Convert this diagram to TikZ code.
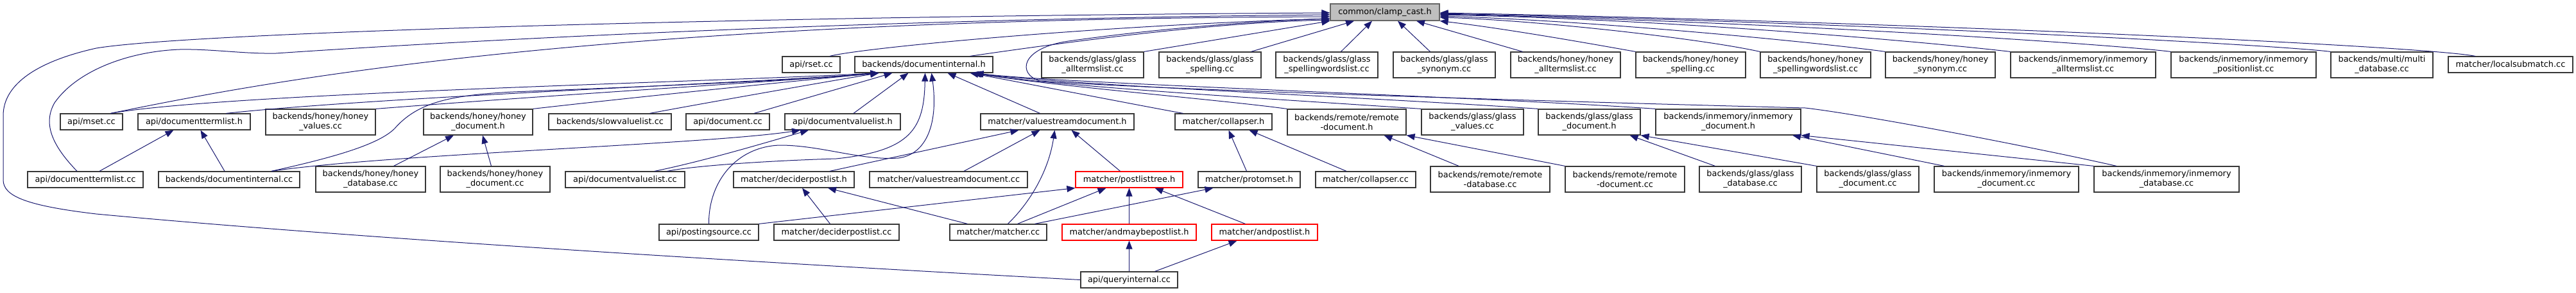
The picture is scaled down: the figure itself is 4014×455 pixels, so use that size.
\documentclass[tikz,border=0pt]{standalone}
\usepackage{fontspec}
\setmainfont{DejaVu Sans}
\usetikzlibrary{arrows.meta}
\definecolor{edgeblue}{HTML}{191970}
\definecolor{rootfill}{HTML}{BFBFBF}
\definecolor{rootline}{HTML}{666666}
\definecolor{boxline}{HTML}{383838}
\tikzset{
  box/.style={draw=boxline, line width=1.2pt, fill=white, rectangle, inner sep=0pt, align=center,
    font=\fontsize{12.9pt}{15pt}\selectfont, minimum height=25pt},
  one/.style={text height=10pt, text depth=3pt},
  two/.style={minimum height=40pt},
  root/.style={fill=rootfill, draw=rootline},
  trunc/.style={draw=red},
  dep/.style={draw=edgeblue, line width=1pt, -{Triangle[length=13pt,width=10pt]}}
}
\begin{document}
\begin{tikzpicture}[x=1pt,y=-1pt]
\useasboundingbox (0,0) rectangle (4014,455);
% row 0
\node[box,one,root,minimum width=170,minimum height=26] (C) at (2158,19) {common/clamp\_cast.h};
% row 1
\node[box,one,minimum width=90] (rset) at (1264,100.5) {api/rset.cc};
\node[box,one,minimum width=215] (dih) at (1439.5,100.5) {backends/documentinternal.h};
\node[box,two,minimum width=159] (gat) at (1702.5,101) {backends/glass/glass\\\_alltermslist.cc};
\node[box,two,minimum width=159] (gsp) at (1885.5,101) {backends/glass/glass\\\_spelling.cc};
\node[box,two,minimum width=159] (gsw) at (2067.5,101) {backends/glass/glass\\\_spellingwordslist.cc};
\node[box,two,minimum width=159] (gsy) at (2250.5,101) {backends/glass/glass\\\_synonym.cc};
\node[box,two,minimum width=171] (hat) at (2439.5,101) {backends/honey/honey\\\_alltermslist.cc};
\node[box,two,minimum width=171] (hsp) at (2634.5,101) {backends/honey/honey\\\_spelling.cc};
\node[box,two,minimum width=172] (hsw) at (2829,101) {backends/honey/honey\\\_spellingwordslist.cc};
\node[box,two,minimum width=171] (hsy) at (3023.5,101) {backends/honey/honey\\\_synonym.cc};
\node[box,two,minimum width=226] (iat) at (3246,101) {backends/inmemory/inmemory\\\_alltermslist.cc};
\node[box,two,minimum width=226] (ipl) at (3496,101) {backends/inmemory/inmemory\\\_positionlist.cc};
\node[box,two,minimum width=159] (mdb) at (3711.5,101) {backends/multi/multi\\\_database.cc};
\node[box,one,minimum width=194] (lsm) at (3912,100.5) {matcher/localsubmatch.cc};
% row 2
\node[box,one,minimum width=97] (mset) at (142.5,189.5) {api/mset.cc};
\node[box,one,minimum width=175] (dtlh) at (302.5,189.5) {api/documenttermlist.h};
\node[box,two,minimum width=171] (hval) at (499.5,190) {backends/honey/honey\\\_values.cc};
\node[box,two,minimum width=170] (hdh) at (745,190) {backends/honey/honey\\\_document.h};
\node[box,one,minimum width=191] (svl) at (950.5,189.5) {backends/slowvaluelist.cc};
\node[box,one,minimum width=130] (doc) at (1134,189.5) {api/document.cc};
\node[box,one,minimum width=180] (dvlh) at (1313,189.5) {api/documentvaluelist.h};
\node[box,one,minimum width=239] (vsdh) at (1647.5,189.5) {matcher/valuestreamdocument.h};
\node[box,one,minimum width=151] (colh) at (1906.5,189.5) {matcher/collapser.h};
\node[box,two,minimum width=185] (rdh) at (2098.5,190) {backends/remote/remote\\-document.h};
\node[box,two,minimum width=159] (gval) at (2294.5,190) {backends/glass/glass\\\_values.cc};
\node[box,two,minimum width=159] (gdh) at (2476.5,190) {backends/glass/glass\\\_document.h};
\node[box,two,minimum width=226] (idh) at (2693,190) {backends/inmemory/inmemory\\\_document.h};
% row 3
\node[box,one,minimum width=180] (dtlcc) at (133,279.5) {api/documenttermlist.cc};
\node[box,one,minimum width=220] (dicc) at (357,279.5) {backends/documentinternal.cc};
\node[box,two,minimum width=171] (hdb) at (577.5,279) {backends/honey/honey\\\_database.cc};
\node[box,two,minimum width=171] (hdcc) at (771.5,279) {backends/honey/honey\\\_document.cc};
\node[box,one,minimum width=186] (dvlcc) at (974,279.5) {api/documentvaluelist.cc};
\node[box,one,minimum width=188] (dplh) at (1237,279.5) {matcher/deciderpostlist.h};
\node[box,one,minimum width=246] (vsdcc) at (1478,279.5) {matcher/valuestreamdocument.cc};
\node[box,one,trunc,minimum width=167] (plt) at (1759.5,279.5) {matcher/postlisttree.h};
\node[box,one,minimum width=159] (pms) at (1946.5,279.5) {matcher/protomset.h};
\node[box,one,minimum width=156] (colcc) at (2128,279.5) {matcher/collapser.cc};
\node[box,two,minimum width=186] (rdb) at (2322,279) {backends/remote/remote\\-database.cc};
\node[box,two,minimum width=186] (rdcc) at (2532,279) {backends/remote/remote\\-document.cc};
\node[box,two,minimum width=159] (gdb) at (2727.5,279) {backends/glass/glass\\\_database.cc};
\node[box,two,minimum width=159] (gdcc) at (2910.5,279) {backends/glass/glass\\\_document.cc};
\node[box,two,minimum width=225] (idcc) at (3126.5,279) {backends/inmemory/inmemory\\\_document.cc};
\node[box,two,minimum width=226] (idb) at (3376,279) {backends/inmemory/inmemory\\\_database.cc};
% row 4
\node[box,one,minimum width=155] (ps) at (1104.5,361.5) {api/postingsource.cc};
\node[box,one,minimum width=195] (dplcc) at (1303.5,361.5) {matcher/deciderpostlist.cc};
\node[box,one,minimum width=151] (mcc) at (1555.5,361.5) {matcher/matcher.cc};
\node[box,one,trunc,minimum width=209] (amp) at (1759.5,361.5) {matcher/andmaybepostlist.h};
\node[box,one,trunc,minimum width=165] (apl) at (1970.5,361.5) {matcher/andpostlist.h};
% row 5
\node[box,one,minimum width=151] (qi) at (1759.5,435.5) {api/queryinternal.cc};

% edges to clamp_cast.h
\draw[dep] (qi.west) .. controls (1300,415) and (600,375) .. (150,333) .. controls (40,320) and (5,305) .. (5,280) -- (5,180) .. controls (5,130) and (60,95) .. (150,75) .. controls (300,50) and (1200,25) .. ([yshift=-1]C.west);
\draw[dep] ([xshift=-13]dtlcc.north) .. controls (85,230) and (65,195) .. (85,160) .. controls (120,110) and (200,80) .. (280,77) .. controls (330,76) and (380,84) .. (430,83) .. controls (650,68) and (1300,30) .. ([yshift=-4]C.west);
\draw[dep] ([xshift=30]mset.north) .. controls (400,130) and (900,30) .. ([yshift=-7]C.west);
\draw[dep] ([xshift=29]rset.north) .. controls (1340,75) and (1700,40) .. ([yshift=-10]C.west);
\draw[dep] ([xshift=72]dih.north) .. controls (1700,60) and (1900,35) .. ([yshift=-12]C.west);
\draw[dep] ([xshift=-78]idb.north) .. controls (3150,225) and (2900,178) .. (2813,168) .. controls (2500,160) and (1800,140) .. (1620,126) .. controls (1585,115) and (1590,75) .. (1665,64) .. controls (1800,45) and (1950,33) .. ([yshift=-10]C.west);
\draw[dep] (gat.north east) -- (C.south west);
\draw[dep] ([xshift=64]gsp.north) -- ([xshift=-48]C.south);
\draw[dep] ([xshift=22]gsw.north) -- ([xshift=-20]C.south);
\draw[dep] ([xshift=-22]gsy.north) -- ([xshift=20]C.south);
\draw[dep] ([xshift=-67]hat.north) -- ([xshift=49]C.south);
\draw[dep] (hsp.north west) .. controls (2490,70) and (2350,45) .. (C.south east);
\draw[dep] (hsw.north west) .. controls (2650,60) and (2400,32) .. ([yshift=-8]C.east);
\draw[dep] (hsy.north west) .. controls (2850,68) and (2500,33) .. ([yshift=-6]C.east);
\draw[dep] (iat.north west) .. controls (3000,65) and (2600,30) .. ([yshift=-4]C.east);
\draw[dep] (ipl.north west) .. controls (3300,70) and (2800,35) .. ([yshift=-3]C.east);
\draw[dep] (mdb.north west) .. controls (3550,70) and (2900,35) .. ([yshift=-2]C.east);
\draw[dep] ([xshift=-55]lsm.north) .. controls (3780,72) and (3000,35) .. ([yshift=-1]C.east);

% edges to documentinternal.h
\draw[dep] ([xshift=30]mset.north) .. controls (350,145) and (1100,128) .. ([xshift=-70]dih.south);
\draw[dep] ([xshift=50]dtlh.north) .. controls (600,150) and (1200,128) .. ([xshift=-70]dih.south);
\draw[dep] (hval.north east) .. controls (900,145) and (1200,128) .. ([xshift=-70]dih.south);
\draw[dep] (hdh.north east) .. controls (1000,150) and (1250,125) .. ([xshift=-70]dih.south);
\draw[dep] ([xshift=62]svl.north) .. controls (1100,160) and (1300,125) .. ([xshift=-70]dih.south);
\draw[dep] ([xshift=66]dicc.north) .. controls (520,245) and (590,225) .. (615,200) .. controls (650,160) and (700,148) .. (800,143) .. controls (1000,135) and (1250,125) .. ([xshift=-70]dih.south);
\draw[dep] ([xshift=41]doc.north) -- ([xshift=-49]dih.south);
\draw[dep] ([xshift=17]dvlh.north) -- ([xshift=-24]dih.south);
\draw[dep] ([xshift=66]dvlcc.north) .. controls (1080,258) and (1200,250) .. (1303,247) .. controls (1420,235) and (1440,200) .. ([xshift=2]dih.south);
\draw[dep] (ps.north) .. controls (1104,280) and (1150,228) .. (1215,226) .. controls (1280,226) and (1340,250) .. (1400,246) .. controls (1445,240) and (1462,190) .. ([xshift=12]dih.south);
\draw[dep] ([xshift=-27]vsdh.north) -- ([xshift=37]dih.south);
\draw[dep] ([xshift=-63]colh.north) .. controls (1780,165) and (1600,130) .. ([xshift=72]dih.south);
\draw[dep] (rdh.north west) .. controls (1900,155) and (1650,135) .. ([xshift=76]dih.south);
\draw[dep] (gval.north west) .. controls (2000,155) and (1650,135) .. ([xshift=78]dih.south);
\draw[dep] (gdh.north west) .. controls (2150,152) and (1650,132) .. ([xshift=80]dih.south);
\draw[dep] (idh.north west) .. controls (2300,150) and (1650,130) .. ([xshift=80]dih.south);

% other edges
\draw[dep] ([xshift=22]dtlcc.north) -- ([xshift=-32]dtlh.south);
\draw[dep] ([xshift=-7]dicc.north) -- ([xshift=10]dtlh.south);
\draw[dep] ([xshift=66]dicc.north) .. controls (600,240) and (1100,225) .. ([xshift=-66]dvlh.south);
\draw[dep] ([xshift=46]dvlcc.north) .. controls (1100,250) and (1200,220) .. ([xshift=-53]dvlh.south);
\draw[dep] ([xshift=-6]hdcc.north) -- ([xshift=7]hdh.south);
\draw[dep] ([xshift=36]hdb.north) -- ([xshift=-38]hdh.south);
\draw[dep] ([xshift=56]dplh.north) -- ([xshift=-60]vsdh.south);
\draw[dep] ([xshift=-10]dplcc.north) -- ([xshift=13]dplh.south);
\draw[dep] ([xshift=-48]mcc.north) -- ([xshift=53]dplh.south);
\draw[dep] ([xshift=15]mcc.north) .. controls (1610,310) and (1635,260) .. ([xshift=-4]vsdh.south);
\draw[dep] ([xshift=30]mcc.north) -- ([xshift=-36]plt.south);
\draw[dep] ([xshift=57]mcc.north) -- ([xshift=-56]pms.south);
\draw[dep] ([xshift=24]vsdcc.north) -- ([xshift=-27]vsdh.south);
\draw[dep] ([xshift=-14]plt.north) -- ([xshift=22]vsdh.south);
\draw[dep] (ps.north east) -- (plt.south west);
\draw[dep] (amp.north) -- (plt.south);
\draw[dep] ([xshift=-30]apl.north) -- ([xshift=40]plt.south);
\draw[dep] (qi.north) -- (amp.south);
\draw[dep] ([xshift=40]qi.north) -- ([xshift=-43]apl.south);
\draw[dep] ([xshift=-4]pms.north) -- ([xshift=8]colh.south);
\draw[dep] ([xshift=-30]colcc.north) -- ([xshift=40]colh.south);
\draw[dep] ([xshift=-49]rdb.north) -- ([xshift=58]rdh.south);
\draw[dep] (rdcc.north west) -- (rdh.south east);
\draw[dep] ([xshift=-55]gdb.north) -- ([xshift=63]gdh.south);
\draw[dep] (gdcc.north west) -- (gdh.south east);
\draw[dep] ([xshift=-97]idcc.north) -- ([xshift=100]idh.south);
\draw[dep] (idb.north west) -- (idh.south east);
\end{tikzpicture}
\end{document}
